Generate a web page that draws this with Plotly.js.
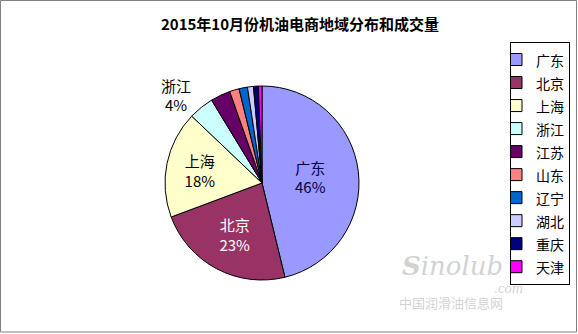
<!DOCTYPE html>
<html><head><meta charset="utf-8">
<script src="https://cdn.plot.ly/plotly-3.0.1.min.js"></script>
<style>html,body{margin:0;padding:0;background:#fff;}#chart{width:578px;height:334px;}</style>
</head><body><div id="chart"></div>
<script>
const regions = ['广东','北京','上海','浙江','江苏','山东','辽宁','湖北','重庆','天津'];
const shares = [46.2, 23.1, 17.8, 4.2, 3.3, 1.6, 1.4, 1.0, 0.8, 0.6];
const colors = ['#9999FF','#993366','#FFFFCC','#CCFFFF','#660066','#FF8080','#0066CC','#CCCCFF','#000080','#FF00FF'];
const textPos = ['inside','inside','inside','outside','none','none','none','none','none','none'];
const textColors = ['#000040','#FFFFFF','#000000','#000000','#000','#000','#000','#000','#000','#000'];
const titleText = '2015年10月份机油电商地域分布和成交量';

const W = 578, H = 334;
const cx = 262, cy = 183, r = 97;

const trace = {
  type: 'pie',
  labels: regions.map(c => '<span style="font-size:14px">' + c + '</span>'),
  customdata: regions,
  values: shares,
  sort: false,
  direction: 'clockwise',
  rotation: 0,
  marker: {colors: colors, line: {color: '#000000', width: 1}},
  textposition: textPos,
  texttemplate: '%{customdata}<br>%{percent:.0%}',
  insidetextorientation: 'horizontal',
  textfont: {family: '"Noto Sans CJK SC", sans-serif', size: 15, color: textColors},
  hoverinfo: 'none',
  domain: {x: [(cx - r) / W, (cx + r) / W], y: [(H - cy - r) / H, (H - cy + r) / H]}
};

const layout = {
  width: W, height: H,
  margin: {l: 0, r: 0, t: 0, b: 0},
  paper_bgcolor: '#FFFFFF',
  font: {family: '"Noto Sans CJK SC", sans-serif', color: '#000'},
  title: {text: '<b>' + titleText + '</b>', font: {size: 15, family: '"Noto Sans CJK SC", serif', color: '#000'},
          x: 300 / W, xanchor: 'center', y: 1 - 25 / H, yanchor: 'middle'},
  showlegend: true,
  legend: {x: 570 / W, xanchor: 'right', y: 1 - 42 / H, yanchor: 'top',
           bordercolor: '#000', borderwidth: 1, bgcolor: '#FFF',
           font: {size: 15.4, family: '"Noto Sans CJK SC", sans-serif', color: '#000'},
           itemwidth: 30, indentation: -15, traceorder: 'normal'},
  shapes: [{type: 'rect', xref: 'paper', yref: 'paper', x0: 0.5 / W, x1: 1 - 1.5 / W, y0: 2 / H, y1: 1 - 0.5 / H,
            line: {color: '#808080', width: 1}}],
  annotations: [
    {text: '<i><b>S</b>inolub</i>', xref: 'paper', yref: 'paper', x: 505 / W, y: 1 - 283 / H, showarrow: false,
     font: {size: 26, color: 'rgba(180,180,180,0.6)', family: 'DejaVu Serif'}},
    {text: '<i>.com</i>', xref: 'paper', yref: 'paper', x: 525 / W, y: 1 - 298 / H, showarrow: false,
     font: {size: 12, color: 'rgba(180,180,180,0.6)', family: 'DejaVu Serif'}},
    {text: '中国润滑油信息网', xref: 'paper', yref: 'paper', x: 505 / W, y: 1 - 314 / H, showarrow: false,
     font: {size: 13, color: 'rgba(190,190,190,0.7)', family: '"Noto Sans CJK SC"'}}
  ]
};

Plotly.newPlot('chart', [trace], layout, {displayModeBar: false, staticPlot: true});
</script></body></html>
